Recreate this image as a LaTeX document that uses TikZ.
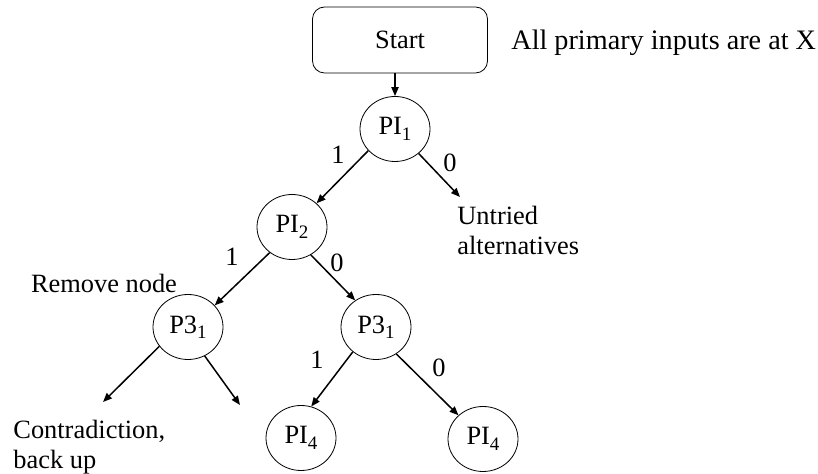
\documentclass[tikz,border=0pt]{standalone}
\usepackage{fontspec}
\setmainfont{Liberation Serif}
\usetikzlibrary{arrows.meta,shapes.geometric}
\newcommand{\lowsub}[1]{\raisebox{-0.45ex}{\fontsize{9.5}{9.5}\selectfont #1}}

\begin{document}
\begin{tikzpicture}
[x=0.5pt,y=-0.5pt,
  every node/.style={font=\fontsize{13.2}{15}\selectfont},
  nodeDecorate/.style={shape=ellipse,draw,thin,inner sep=0pt,minimum width=35pt,minimum height=32.5pt},
  boxDecorate/.style={shape=rectangle,draw,thin,rounded corners=6pt,minimum width=87.5pt,minimum height=33pt},
  lineDecorate/.style={-{Triangle[length=4.5pt,width=3.6pt]},line width=0.75pt},
  labelDecorate/.style={inner sep=0pt}]
\useasboundingbox (0,0) rectangle (818,474);
%% start box and note
\node (start) at (400,40) [boxDecorate] {Start};
\node (note) at (511,43) [anchor=west,inner sep=0pt,font=\fontsize{14.1}{16}\selectfont] {All primary inputs are at X};
%% nodes or vertices
\foreach \nodename/\x/\y/\txt in {pi1/395/129/{PI\lowsub{1}}, pi2/292/227/{PI\lowsub{2}},
    p3l/188/327/{P3\lowsub{1}}, p3r/376/327/{P3\lowsub{1}},
    pi4l/301/438/{PI\lowsub{4}}, pi4r/483/439/{PI\lowsub{4}}} {
  \node (\nodename) at (\x,\y) [nodeDecorate] {\txt};
}
%% loose ends
\coordinate (u1) at (460,197);
\coordinate (c1) at (103,402);
\coordinate (c2) at (240,405);
%% texts
\node (untried) at (457,230) [anchor=west,align=left,inner sep=0pt] {Untried\\alternatives};
\node (remove) at (104,283) [inner sep=0pt] {Remove node};
\node (contra) at (13,447) [anchor=west,align=left,inner sep=0pt] {Contradiction,\\back up};
%% edge labels
\foreach \labname/\x/\y/\txt in {l1/338/155/1, l2/450/163/0, l3/232/257/1,
    l4/337/263/0, l5/317/360/1, l6/439/368/0} {
  \node (\labname) at (\x,\y) [labelDecorate] {\txt};
}
%% edges or lines
\draw[lineDecorate] (start.south -| pi1) -- (pi1);
\path
\foreach \startnode/\endnode in {pi1.219/pi2.44, pi1.314/u1, pi2.229/p3l.39, pi2.304/p3r.128,
    p3l.214/c1, p3l.300/c2, p3r.227/pi4l.72, p3r.307/pi4r.136} {
  (\startnode) edge[lineDecorate] (\endnode)
};
\end{tikzpicture}
\end{document}
